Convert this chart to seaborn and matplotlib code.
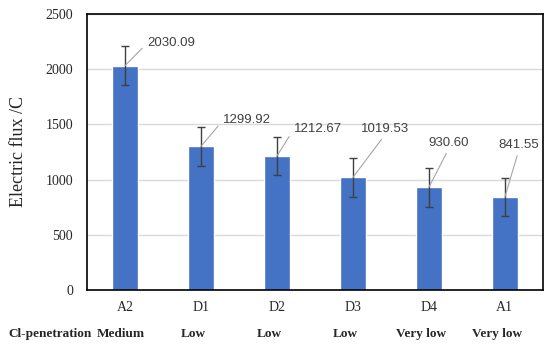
import matplotlib
matplotlib.use("Agg")
import matplotlib.pyplot as plt
import seaborn as sns
import pandas as pd

# data
samples = ["A2", "D1", "D2", "D3", "D4", "A1"]
flux = [2030.09, 1299.92, 1212.67, 1019.53, 930.60, 841.55]
flux_err = [178, 178, 175, 175, 175, 175]
penetration = ["Medium", "Low", "Low", "Low", "Very low", "Very low"]

# label placement (offset in categories, label height in C)
label_dx = [0.61, 0.61, 0.54, 0.42, 0.26, 0.18]
label_y = [2237, 1540, 1458, 1458, 1332, 1313]

df = pd.DataFrame({"sample": samples, "flux": flux})

sns.set_style("white")
serif = "Liberation Serif"

fig = plt.figure(figsize=(5.5, 3.47), dpi=100)
ax = fig.add_axes([0.158, 0.164, 0.829, 0.796])

sns.barplot(data=df, x="sample", y="flux", color="#4472C4", saturation=1,
            width=0.34, errorbar=None, ax=ax, zorder=2)
ax.errorbar(range(len(samples)), flux, yerr=flux_err, fmt="none",
            ecolor="#404040", elinewidth=1, capsize=3, capthick=1, zorder=3)

for i, v in enumerate(flux):
    left = i < 3
    ax.annotate(f"{v:.2f}", xy=(i, v), xytext=(i + label_dx[i], label_y[i]),
                textcoords="data", ha="center", va="center",
                fontsize=9.5, color="#404040", family="Liberation Sans",
                arrowprops=dict(arrowstyle="-", color="#a6a6a6", lw=0.8,
                                shrinkA=2 if left else 1, shrinkB=0,
                                relpos=(0, 0.5) if left else (0.5, 0)),
                zorder=4)

ax.set_xlim(-0.5, len(samples) - 0.5)
ax.set_ylim(0, 2500)
ax.set_yticks(range(0, 2501, 500))
ax.yaxis.grid(True, color="#d9d9d9", lw=1, zorder=0)
ax.set_axisbelow(True)

for s in ax.spines.values():
    s.set_visible(True)
    s.set_color("black")
    s.set_linewidth(1.2)

ax.set_xticks(range(len(samples)))
ax.set_xticklabels(samples, family=serif, fontsize=10, color="#262626")
ax.tick_params(axis="x", length=0, pad=8)
ax.set_xticks([i + 0.5 for i in range(len(samples) - 1)], minor=True)
ax.tick_params(axis="x", which="minor", direction="in", length=4, width=1)
ax.tick_params(axis="y", direction="in", length=3, width=1, labelsize=10,
               pad=10, labelcolor="#262626")
for t in ax.get_yticklabels():
    t.set_family(serif)

ax.set_xlabel("")
ax.set_ylabel("Electric flux /C", family=serif, fontsize=13, labelpad=13)

# penetration row under the sample labels
trans = ax.get_xaxis_transform()
fig.text(8 / 550, 1 - 334 / 347, "Cl-penetration", ha="left", va="center",
         family=serif, fontweight="bold", fontsize=9.5)
for i, p in enumerate(penetration):
    ax.text(i - (0.06 if i == 0 else 0.1), -0.16, p, transform=trans,
            ha="center", va="center", family=serif, fontweight="bold",
            fontsize=9.5, clip_on=False)

fig.savefig("out.png", dpi=100)
